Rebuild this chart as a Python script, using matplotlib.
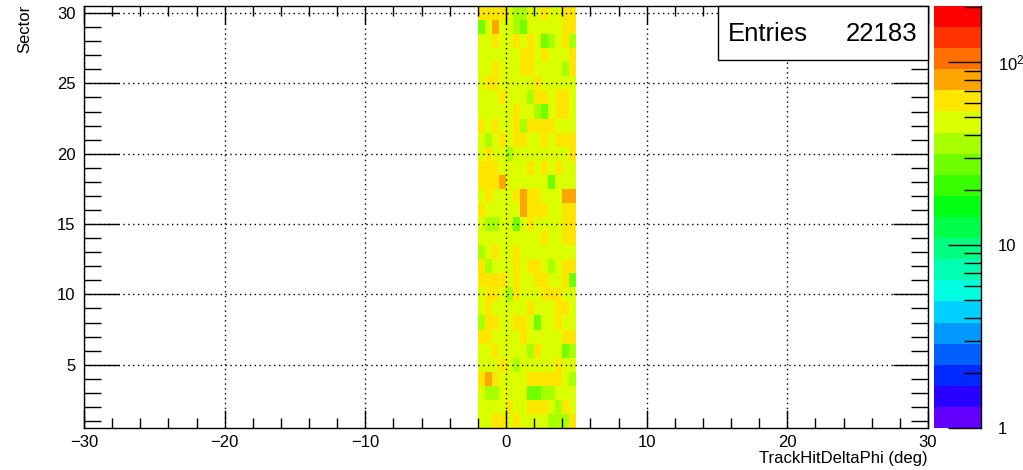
import numpy as np
import matplotlib
matplotlib.use("Agg")
import matplotlib.pyplot as plt
from matplotlib.colors import ListedColormap, BoundaryNorm
from matplotlib.patches import Rectangle
import matplotlib.ticker as mticker

plt.rcParams['font.family'] = ['Liberation Sans', 'DejaVu Sans']
plt.rcParams['mathtext.default'] = 'regular'

# bins: TrackHitDeltaPhi from -2 to 5 deg in 0.5 deg steps, sectors 1..30
phi_edges = np.arange(-2.0, 5.01, 0.5)
sector_edges = np.arange(0.5, 30.6, 1.0)
entries = 22183

# counts per cell, row = sector 1 .. 30, column = phi bin
counts = np.array([
    [46, 47, 58, 61, 45, 59, 48, 44, 47, 46, 36, 35, 37, 60],
    [45, 47, 44, 48, 57, 46, 45, 60, 62, 58, 47, 34, 59, 46],
    [46, 36, 35, 47, 44, 46, 45, 28, 27, 36, 35, 47, 45, 44],
    [57, 79, 58, 46, 47, 45, 48, 60, 59, 62, 58, 56, 46, 36],
    [45, 47, 46, 58, 44, 34, 47, 46, 48, 45, 46, 57, 47, 45],
    [46, 45, 59, 47, 46, 44, 47, 35, 58, 46, 45, 47, 28, 36],
    [58, 60, 46, 47, 45, 46, 59, 47, 44, 46, 48, 45, 57, 61],
    [36, 58, 60, 47, 45, 59, 57, 46, 27, 45, 47, 58, 46, 44],
    [46, 58, 47, 45, 46, 48, 44, 59, 47, 46, 45, 60, 57, 46],
    [45, 57, 59, 47, 35, 58, 46, 47, 45, 60, 57, 59, 46, 47],
    [60, 58, 61, 57, 46, 59, 47, 45, 58, 61, 46, 47, 59, 27],
    [58, 36, 46, 47, 45, 60, 46, 59, 57, 47, 35, 46, 58, 60],
    [35, 46, 58, 47, 45, 57, 46, 48, 44, 46, 47, 45, 46, 47],
    [46, 47, 45, 46, 48, 44, 47, 46, 45, 59, 46, 47, 58, 60],
    [45, 36, 34, 46, 47, 27, 46, 58, 47, 45, 46, 44, 59, 61],
    [59, 46, 47, 45, 46, 47, 80, 58, 60, 57, 46, 45, 58, 60],
    [46, 58, 47, 45, 46, 59, 82, 60, 57, 47, 46, 45, 78, 80],
    [58, 60, 59, 79, 47, 46, 45, 47, 46, 44, 28, 46, 47, 45],
    [60, 57, 59, 46, 45, 47, 46, 58, 47, 60, 46, 57, 45, 47],
    [46, 58, 47, 45, 35, 46, 47, 45, 46, 48, 46, 45, 47, 58],
    [45, 36, 47, 59, 46, 58, 60, 46, 47, 57, 46, 59, 58, 61],
    [58, 46, 60, 47, 45, 59, 35, 58, 60, 57, 59, 46, 47, 45],
    [46, 47, 45, 46, 47, 58, 46, 45, 36, 28, 47, 58, 60, 46],
    [45, 46, 47, 59, 46, 45, 47, 35, 58, 60, 46, 59, 57, 47],
    [46, 58, 59, 47, 45, 46, 47, 46, 60, 45, 47, 46, 45, 46],
    [47, 45, 58, 46, 46, 47, 59, 57, 45, 46, 47, 46, 36, 59],
    [46, 47, 45, 46, 47, 45, 58, 60, 46, 57, 45, 47, 46, 59],
    [45, 47, 58, 46, 45, 59, 46, 60, 47, 27, 35, 46, 58, 36],
    [27, 46, 80, 47, 45, 35, 28, 46, 47, 45, 46, 47, 58, 60],
    [58, 60, 57, 59, 46, 36, 35, 47, 46, 59, 45, 46, 60, 58],
])

# ROOT-like rainbow palette, 20 contours (bottom -> top)
palette = ['#6400FF', '#2800FF', '#0028FF', '#0060FF', '#0098FF',
           '#00D0FF', '#00FFE0', '#00FFB0', '#00FF80', '#00FF48',
           '#00FF10', '#38FF00', '#70FF00', '#A8FF00', '#DCFF00',
           '#FFE600', '#FFA500', '#FF7000', '#FF3300', '#FF0000']
zmin, zmax = 1.0, 203.0
levels = np.logspace(np.log10(zmin), np.log10(zmax), len(palette) + 1)
cmap = ListedColormap(palette)
norm = BoundaryNorm(levels, cmap.N)

W, H = 1023, 470
fig = plt.figure(figsize=(W / 100, H / 100), dpi=100)
ax = fig.add_axes([84 / W, 42 / H, 844 / W, 422 / H])

ax.pcolormesh(phi_edges, sector_edges, counts, cmap=cmap, norm=norm, zorder=1)

ax.set_xlim(-30, 30)
ax.set_ylim(0.5, 30.5)
ax.xaxis.set_major_locator(mticker.MultipleLocator(10))
ax.xaxis.set_minor_locator(mticker.MultipleLocator(2))
ax.yaxis.set_major_locator(mticker.MultipleLocator(5))
ax.yaxis.set_minor_locator(mticker.MultipleLocator(1))
ax.tick_params(axis='x', which='major', direction='in', length=13, width=1,
               top=True, labelsize=12, pad=5)
ax.tick_params(axis='x', which='minor', direction='in', length=7, width=1, top=True)
ax.tick_params(axis='y', which='major', direction='in', length=25, width=1,
               right=True, labelsize=12, pad=6)
ax.tick_params(axis='y', which='minor', direction='in', length=12, width=1, right=True)
for s in ax.spines.values():
    s.set_linewidth(1)
ax.set_axisbelow(False)
ax.grid(True, which='major', color='black', linestyle=(0, (1, 2.5)), linewidth=1)

fig.text(25 / W, 1 - 5 / H, 'Sector', rotation=90, ha='center', va='top', fontsize=12)
fig.text(928 / W, 1 - 458 / H, 'TrackHitDeltaPhi (deg)', ha='right', va='center', fontsize=12)

# stats box
fig.add_artist(Rectangle((718 / W, 1 - 60 / H), 210 / W, 54 / H, transform=fig.transFigure,
                         facecolor='white', edgecolor='black', linewidth=1, zorder=5))
fig.text(728 / W, 1 - 34 / H, 'Entries', ha='left', va='center', fontsize=18.5, zorder=6)
fig.text(917 / W, 1 - 34 / H, str(entries), ha='right', va='center', fontsize=18.5, zorder=6)

# palette axis
cax = fig.add_axes([934 / W, 42 / H, 47 / W, 422 / H])
cax.set_yscale('log')
cax.set_ylim(zmin, zmax)
cax.set_xlim(0, 1)
for i, c in enumerate(palette):
    cax.axhspan(levels[i], levels[i + 1], color=c, lw=0)
for side in ['left', 'top', 'bottom']:
    cax.spines[side].set_visible(False)
cax.spines['right'].set_linewidth(1)
cax.set_xticks([])
cax.yaxis.tick_right()
cax.yaxis.set_major_locator(mticker.FixedLocator([1, 10, 100]))
cax.yaxis.set_major_formatter(mticker.FixedFormatter(['1', '10', '10$^{2}$']))
cax.yaxis.set_minor_locator(mticker.LogLocator(base=10, subs=np.arange(2, 10)))
cax.yaxis.set_minor_formatter(mticker.NullFormatter())
cax.tick_params(axis='y', which='major', direction='in', length=24, width=1,
                labelsize=12, pad=12, left=False)
cax.tick_params(axis='y', which='minor', direction='in', length=12, width=1, left=False)

fig.savefig('out.png', dpi=100)
